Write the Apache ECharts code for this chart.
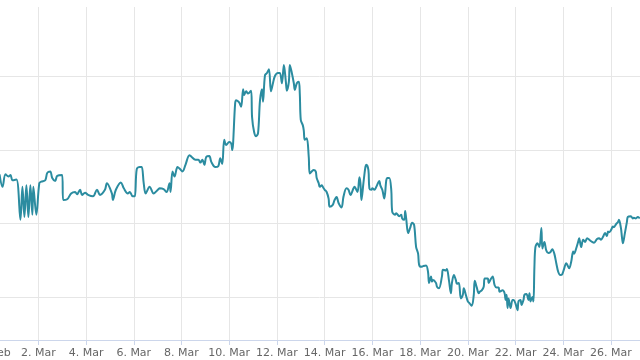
<!DOCTYPE html>
<html>
<head>
<meta charset="utf-8">
<script src="https://cdn.jsdelivr.net/npm/echarts@6/dist/echarts.min.js"></script>
<style>
html,body{margin:0;padding:0;background:#fff;}
#c{width:640px;height:360px;}
</style>
</head>
<body>
<div id="c"></div>
<script>
// hours since 29 Feb 00:00
const hours = [9,12,15,18,20,22,26,30,32,34,36,38,40,42,43,46,49,51,55,57,60,62,65,67,72,73,77,81,85,87,90,92,95,98,103,107,110,115,117,122,123,126,131,134,138,140,143,145,147,150,152,154,156,160,164,169,
170,174,177,180,181,183,185,188,190,193,196,200,202,206,209,211,213,215,217,220,222,226,229,231,233,235,237,240,242,243,
246,247,250,252,254,255,257,259,262,263,265,267,269,271,273,274,276,278,280,282,284,286,289,291,293,295,297,298,300,301,303,305,306,308,310,311,312,314,315,316,318,320,
321,323,325,327,328,330,331,333,335,336,338,340,341,344,346,348,350,353,355,358,360,362,365,366,369,371,372,373,375,377,378,380,381,383,384,386,388,391,392,394,396,398,399,401,403,404,407,408,411,413,
414,416,417,418,420,422,424,426,428,430,431,433,435,438,440,441,443,444,445,448,449,451,454,455,458,459,461,463,464,466,468,469,471,473,475,476,478,480,482,484,486,487,489,491,492,494,496,497,500,501,503,505,507,509,511,512,515,517,518,519,520,521,523,525,526,528,530,531,533,534,536,537,539,541,542,543,545,546,547,548,550,552,554,555,557,559,561,563,565,567,569,571,573,
575,577,579,580,582,584,586,587,589,591,592,594,596,598,600,603,605,607,610,612,614,616,618,620,621,622,624,626,627,629,631,632,634,635,636,638,640,641,644,646,647,649,651,653];
const values = [26.7,25.0,26.7,26.4,26.6,25.9,26.0,20.5,25.0,20.9,25.2,20.9,25.2,21.2,25.0,21.2,25.5,25.7,25.9,26.9,27.1,26.2,25.8,26.5,26.6,23.2,23.3,24.1,24.3,24.0,24.6,23.9,24.2,23.9,23.7,24.6,23.9,24.6,25.5,24.1,23.2,24.6,25.6,24.8,24.1,24.3,23.7,23.7,27.4,27.7,27.7,25.5,24.1,25.0,24.1,24.7,
24.8,24.7,24.3,25.5,24.3,27.1,26.4,27.7,27.5,27.1,28.0,29.3,29.1,28.7,28.7,28.3,28.7,28.0,29.1,29.2,28.4,27.7,27.8,28.9,28.1,31.4,30.7,31.1,30.9,30.0,
36.4,36.8,36.5,35.9,38.3,37.5,38.0,37.7,38.1,34.5,32.5,31.9,32.3,36.8,38.3,36.6,40.2,40.5,41.0,38.0,39.1,40.1,40.5,40.5,39.1,41.6,39.3,38.1,39.3,41.6,40.5,39.1,38.2,39.1,39.3,37.7,34.1,33.4,32.7,31.4,31.6,29.1,
26.8,27.1,27.3,27.1,26.2,25.5,25.0,25.2,24.8,24.6,24.3,23.4,22.3,22.5,23.2,23.6,22.8,22.2,23.7,24.8,24.6,23.9,24.8,25.0,24.3,26.3,25.5,23.2,25.5,27.7,28.0,27.3,24.8,24.6,24.8,24.6,25.0,25.8,25.2,24.6,23.4,25.9,26.2,26.2,24.6,21.6,21.2,21.4,21.0,21.2,
20.7,20.5,21.7,20.7,18.7,19.4,20.1,19.8,16.8,15.9,14.4,14.1,14.2,14.3,13.4,11.9,12.8,12.1,12.3,11.9,11.4,11.2,12.8,13.7,13.6,13.8,12.3,10.5,11.9,13.0,12.3,11.8,11.9,9.8,10.3,11.2,10.3,9.4,9.1,8.8,10.3,12.2,11.3,10.5,10.7,10.9,11.4,12.5,12.5,11.9,12.4,12.8,11.6,11.3,11.3,10.7,10.9,10.5,9.6,10.3,8.5,9.8,8.5,9.6,9.6,9.1,8.2,9.4,9.6,8.9,9.6,10.3,10.4,9.6,10.5,9.4,10.0,9.4,14.1,16.8,17.3,16.8,19.4,16.6,17.5,16.3,16.0,16.1,16.5,15.9,14.6,13.4,13.0,
13.1,13.9,14.6,14.4,13.9,14.8,16.2,15.9,16.6,17.5,18.0,16.8,17.8,17.5,18.0,17.7,17.5,17.4,17.9,18.0,17.8,18.2,18.7,18.3,18.9,18.8,19.1,19.6,19.5,19.9,20.2,20.5,19.4,18.2,17.3,18.7,20.2,20.9,21.0,20.7,20.8,20.7,20.9,20.7];
const tickLabels = ['29. Feb','2. Mar','4. Mar','6. Mar','8. Mar','10. Mar','12. Mar','14. Mar','16. Mar','18. Mar','20. Mar','22. Mar','24. Mar','26. Mar'];
const tickStepHours = 48;
const xMax = 653.2;
const yMin = 4.14, yMax = 49.49, yStep = 10;

const data = hours.map((h, i) => [h, values[i]]);
const chart = echarts.init(document.getElementById('c'), null, {renderer: 'canvas'});
chart.setOption({
  animation: false,
  backgroundColor: '#ffffff',
  grid: {left: -9.4, right: 0, top: 7, bottom: 20, containLabel: false, outerBoundsMode: 'none'},
  xAxis: {
    type: 'value',
    min: 0, max: xMax, interval: tickStepHours,
    axisLine: {show: true, lineStyle: {color: '#ccd6eb', width: 1}},
    axisTick: {show: true, length: 5, lineStyle: {color: '#ccd6eb'}},
    axisLabel: {
      color: '#666666', fontSize: 11, fontFamily: 'DejaVu Sans', margin: 8,
      showMaxLabel: false, hideOverlap: false,
      formatter: v => { const k = Math.round(v / tickStepHours); return (Math.abs(v - k * tickStepHours) < 0.01 && tickLabels[k]) ? tickLabels[k] : ''; }
    },
    splitLine: {show: true, showMaxLine: false, lineStyle: {color: '#e6e6e6', width: 1}}
  },
  yAxis: {
    type: 'value',
    min: yMin, max: yMax, minInterval: yStep, maxInterval: yStep,
    axisLine: {show: false}, axisTick: {show: false}, axisLabel: {show: false},
    splitLine: {show: true, showMinLine: false, showMaxLine: false, lineStyle: {color: '#e6e6e6', width: 1}}
  },
  series: [{
    type: 'line',
    data: data,
    showSymbol: false,
    smooth: 0.35,
    lineStyle: {color: '#2b8ca0', width: 2},
    itemStyle: {color: '#2b8ca0'}
  }]
});
</script>
</body>
</html>
